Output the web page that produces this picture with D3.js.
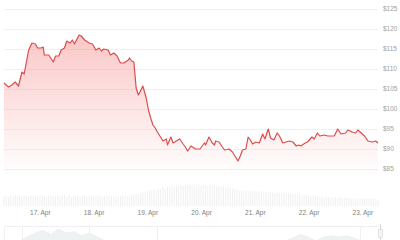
<!DOCTYPE html>
<html lang="en">
<head>
<meta charset="UTF-8">
<title>Price chart - D3.js</title>
<script src="https://d3js.org/d3.v7.min.js"></script>
<style>
  body { margin: 0; overflow: hidden; background: #fff; font-family: "Liberation Sans", Arial, sans-serif; }
  text { font-family: "Liberation Sans", Arial, sans-serif; }
</style>
</head>
<body>
<div id="chart"></div>
<script>
  // price series
  const times = [
    "04-16 08:00","04-16 10:00","04-16 11:30","04-16 13:00","04-16 14:30","04-16 16:00","04-16 17:00","04-16 19:00",
    "04-16 20:30","04-16 22:00","04-16 23:00","04-17 00:30","04-17 01:30","04-17 02:00","04-17 04:00","04-17 06:00",
    "04-17 07:00","04-17 08:30","04-17 09:30","04-17 11:00","04-17 12:00","04-17 13:30","04-17 14:30","04-17 15:30",
    "04-17 17:30","04-17 18:30","04-17 20:00","04-17 22:00","04-17 23:30","04-18 01:00","04-18 02:30","04-18 03:30",
    "04-18 04:30","04-18 06:30","04-18 07:30","04-18 09:00","04-18 10:30","04-18 12:00","04-18 13:30","04-18 15:30",
    "04-18 16:00","04-18 17:00","04-18 18:00","04-18 19:00","04-18 20:00","04-18 20:30","04-18 22:00","04-18 23:30",
    "04-19 00:30","04-19 01:30","04-19 02:30","04-19 03:30","04-19 04:30","04-19 07:00","04-19 08:30","04-19 09:00",
    "04-19 10:30","04-19 11:30","04-19 13:00","04-19 14:30","04-19 16:00","04-19 17:00","04-19 18:00","04-19 19:30",
    "04-19 21:30","04-19 23:30","04-20 01:30","04-20 02:00","04-20 03:30","04-20 05:00","04-20 06:00","04-20 06:30",
    "04-20 08:00","04-20 09:30","04-20 10:30","04-20 12:30","04-20 14:00","04-20 16:30","04-20 17:30","04-20 18:30",
    "04-20 20:00","04-20 21:00","04-20 22:00","04-20 23:00","04-21 00:30","04-21 02:00","04-21 03:30","04-21 04:30",
    "04-21 06:00","04-21 07:00","04-21 08:30","04-21 10:00","04-21 11:00","04-21 12:30","04-21 14:00","04-21 15:30",
    "04-21 17:00","04-21 18:30","04-21 19:30","04-21 20:30","04-21 22:30","04-21 23:30","04-22 01:30","04-22 02:30",
    "04-22 04:00","04-22 05:00","04-22 07:00","04-22 08:30","04-22 11:30","04-22 13:00","04-22 14:30","04-22 16:30",
    "04-22 17:30","04-22 19:30","04-22 21:00","04-22 22:00","04-22 23:30","04-23 01:00","04-23 02:30","04-23 04:30",
    "04-23 06:00","04-23 07:00"
  ];
  const prices = [
    106.5,105.5,106.0,106.75,105.75,109.25,108.75,114.75,
    116.5,116.25,115.25,115.25,115.5,113.5,113.5,111.75,
    113.25,113.25,114.75,115.25,117.0,116.5,117.25,116.25,
    118.5,118.25,117.25,116.5,116.25,114.75,115.25,114.5,
    115.0,114.75,113.5,114.0,113.25,111.5,111.5,112.25,
    112.75,112.0,111.75,105.25,103.5,104.0,105.75,102.75,
    99.75,97.75,96.0,95.25,94.25,92.0,92.5,91.0,
    93.0,91.5,92.0,92.5,91.25,90.5,89.5,90.75,
    90.0,90.0,91.5,91.0,93.0,91.5,91.0,92.0,
    91.75,90.5,89.75,90.0,89.25,87.0,88.25,89.75,
    90.0,93.0,92.25,91.25,91.75,91.5,93.75,92.5,
    95.0,92.75,92.25,94.0,93.25,91.5,91.75,92.0,
    91.75,90.75,91.0,90.75,91.5,91.75,93.0,92.5,
    94.0,93.25,93.5,93.25,93.25,95.0,93.75,94.0,
    94.75,94.25,94.0,94.75,94.0,93.25,92.0,91.75,
    92.0,91.5
  ];

  // hourly volume, from 16 Apr 08:00
  const volumeStart = "04-16 08:00";
  const volumes = [
    4.2,4.6,4.0,4.8,4.4,5.0,4.3,4.7,4.1,4.9,4.5,4.2,4.8,4.4,4.6,4.0,
    4.3,4.7,4.5,4.1,4.9,4.4,4.6,4.2,4.8,4.0,4.5,4.7,4.3,4.9,4.1,4.6,4.4,4.8,4.2,4.5,4.7,4.0,4.6,4.3,
    4.5,4.2,4.8,4.4,4.1,4.7,4.3,4.9,4.5,4.0,4.6,4.2,4.4,4.8,4.1,4.5,4.3,4.7,5.0,5.4,5.1,5.8,6.2,5.9,
    6.5,7.0,6.8,7.6,7.2,8.0,7.7,8.3,8.0,8.6,8.2,8.8,8.4,9.0,8.7,9.3,9.0,9.6,9.2,9.8,9.4,10.0,9.6,9.9,
    9.5,10.0,9.7,9.3,9.8,9.1,9.4,8.8,9.0,8.5,8.7,8.1,8.3,7.8,7.9,7.3,7.5,7.0,7.2,6.8,7.0,6.6,6.9,6.5,
    6.8,6.4,6.7,6.2,6.5,6.1,6.4,6.0,6.3,5.9,6.2,5.8,6.0,5.7,5.9,5.5,5.8,5.4,5.6,5.2,5.5,5.0,5.3,4.9,
    4.8,4.4,4.7,4.2,4.5,4.0,4.3,3.9,4.2,3.8,4.1,3.7,4.0,3.6,3.9,3.5,3.8,3.4,3.7,3.3,3.6,3.4,3.2,3.5,
    3.3,3.6,3.2,3.5,3.1,3.4,3.2,3.0
  ];

  const priceTicks = [85, 90, 95, 100, 105, 110, 115, 120, 125];

  // navigator (overview) series, evenly spaced
  const navValues = [0,0,0,3,6,8,5,9,6,7,4,6,3,0,0,0,0,0,0,0,0,0,0,0,0,0,0,0,0,0,0,0,0,0,0,0,0,2,5,3,0,3,4,3,4,2,0,0,0];
  const navGridIdx = [2.3, 10.9, 19.7, 45.7];

  const width = 400, height = 240;
  const parse = d3.timeParse("%Y-%m-%d %H:%M");
  const data = times.map((t, i) => ({ date: parse("2024-" + t), value: prices[i] }));
  const v0 = parse("2024-" + volumeStart);
  const volData = volumes.map((v, i) => ({ date: d3.timeHour.offset(v0, i), value: v }));

  const left = 4, right = 378;
  const x = d3.scaleTime()
      .domain([parse("2024-04-16 08:00"), parse("2024-04-23 07:00")])
      .range([left, right]);
  const y = d3.scaleLinear().domain([85, 125]).range([169, 9]);
  const yVol = d3.scaleLinear().domain([0, 10.3]).range([206, 183]);

  const svg = d3.select("#chart").append("svg")
      .attr("width", width)
      .attr("height", height);

  const defs = svg.append("defs");
  const grad = defs.append("linearGradient")
      .attr("id", "fillGrad")
      .attr("gradientUnits", "userSpaceOnUse")
      .attr("x1", 0).attr("y1", 9).attr("x2", 0).attr("y2", 175);
  grad.append("stop").attr("offset", 0).attr("stop-color", "#f05050").attr("stop-opacity", 0.38);
  grad.append("stop").attr("offset", 1).attr("stop-color", "#f05050").attr("stop-opacity", 0);

  // grid lines
  svg.append("g").selectAll("line")
    .data(priceTicks)
    .enter().append("line")
      .attr("x1", left).attr("x2", right)
      .attr("y1", d => Math.round(y(d)) + 0.5)
      .attr("y2", d => Math.round(y(d)) + 0.5)
      .style("stroke", "#f1f1f1")
      .style("stroke-width", 1);

  // y labels on the right
  svg.append("g").selectAll("text")
    .data(priceTicks)
    .enter().append("text")
      .attr("x", 383)
      .attr("y", d => y(d))
      .attr("dy", "0.35em")
      .style("font-size", "6.5px")
      .style("fill", "#a0a0a0")
      .text(d => "$" + d);

  // volume bars
  svg.append("g").selectAll("rect")
    .data(volData)
    .enter().append("rect")
      .attr("x", d => x(d.date) - 0.5)
      .attr("width", 1)
      .attr("y", d => yVol(d.value))
      .attr("height", d => 206 - yVol(d.value))
      .attr("fill", "#f0f0f0");

  // price area + line
  const area = d3.area()
      .x(d => x(d.date))
      .y0(175)
      .y1(d => y(d.value));
  svg.append("path")
      .datum(data)
      .attr("d", area)
      .attr("fill", "url(#fillGrad)");

  const line = d3.line()
      .x(d => x(d.date))
      .y(d => y(d.value));
  svg.append("path")
      .datum(data)
      .attr("d", line)
      .attr("fill", "none")
      .style("stroke", "#dc4d4d")
      .style("stroke-width", 1.2)
      .style("stroke-linejoin", "round");

  // x axis
  const xAxis = d3.axisBottom(x)
      .ticks(d3.timeDay.every(1))
      .tickFormat(d3.timeFormat("%-d. %b"))
      .tickSize(0)
      .tickPadding(4);
  const gx = svg.append("g")
      .attr("transform", "translate(0,206)")
      .call(xAxis);
  gx.select(".domain").remove();
  gx.selectAll("text")
      .style("font-size", "6.5px")
      .style("fill", "#808080")
      .style("font-family", "Liberation Sans, Arial, sans-serif");

  // navigator
  const nav = svg.append("g");
  const xNav = d3.scaleLinear().domain([0, navValues.length - 1]).range([left, right]);
  const yNav = d3.scaleLinear().domain([0, 9]).range([241, 229]);
  nav.append("rect")
      .attr("x", left + 0.5).attr("y", 226.5)
      .attr("width", right - left + 2).attr("height", 20)
      .attr("fill", "none")
      .style("stroke", "#f0f0f0");
  nav.selectAll("line.navgrid")
    .data(navGridIdx)
    .enter().append("line")
      .attr("class", "navgrid")
      .attr("x1", d => Math.round(xNav(d)) + 0.5)
      .attr("x2", d => Math.round(xNav(d)) + 0.5)
      .attr("y1", 227).attr("y2", 240)
      .style("stroke", "#f0f0f0");
  nav.append("path")
      .datum(navValues)
      .attr("d", d3.area().x((d, i) => xNav(i)).y0(241).y1(d => yNav(d)))
      .attr("fill", "#eef2f3")
      .style("stroke", "#e2e8eb")
      .style("stroke-width", 0.5);
  // handle
  nav.append("line")
      .attr("x1", 380.5).attr("x2", 380.5).attr("y1", 224).attr("y2", 240)
      .style("stroke", "#d8d8d8");
  nav.append("rect")
      .attr("x", 378.5).attr("y", 229.5).attr("width", 4).attr("height", 8)
      .attr("fill", "#f4f4f4")
      .style("stroke", "#cfcfcf")
      .style("stroke-width", 0.5);
</script>
</body>
</html>
